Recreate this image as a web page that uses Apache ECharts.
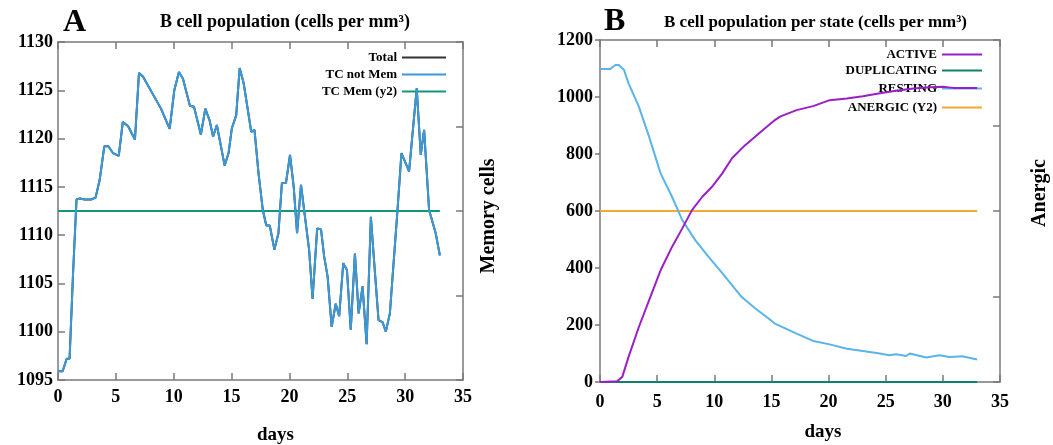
<!DOCTYPE html>
<html>
<head>
<meta charset="utf-8">
<script src="https://cdn.jsdelivr.net/npm/echarts/dist/echarts.min.js"></script>
<style>
  html, body { margin: 0; padding: 0; background: #fff; }
  #chart { width: 1053px; height: 445px; }
</style>
</head>
<body>
<div id="chart"></div>
<script>
// ---- Panel A: B cell population ----
const daysA = [0, 0.4, 0.75, 1.0, 1.3, 1.6, 1.9, 2.3, 2.9, 3.25, 3.6, 4.0, 4.35, 4.75, 5.25,
  5.6, 6.05, 6.65, 7.0, 7.35, 8.9, 9.65, 10.05, 10.45, 10.8, 11.4, 11.75, 12.35, 12.73, 13.1,
  13.4, 13.73, 14.4, 14.74, 15.03, 15.4, 15.7, 16.05, 16.7, 16.98, 17.33, 17.7, 18.0, 18.3, 18.7,
  19.05, 19.35, 19.7, 20.05, 20.37, 20.66, 21.0, 21.3, 21.7, 22.0, 22.4, 22.73, 23.0, 23.3, 23.65,
  24.0, 24.3, 24.65, 24.97, 25.3, 25.66, 25.98, 26.32, 26.67, 27.04, 27.33, 27.7, 28.05, 28.33, 28.68,
  29.34, 29.68, 30.34, 31.0, 31.35, 31.64, 32.07, 32.64, 33.0];
const tcNotMem = [1095.9, 1095.9, 1097.2, 1097.2, 1106.0, 1113.7, 1113.8, 1113.7, 1113.7, 1113.9,
  1115.7, 1119.2, 1119.2, 1118.5, 1118.2, 1121.7, 1121.3, 1119.9, 1126.8, 1126.4,
  1123.1, 1121.0, 1125.0, 1126.9, 1126.2, 1123.4, 1123.3, 1120.4, 1123.1, 1121.9,
  1120.2, 1121.4, 1117.2, 1118.5, 1121.1, 1122.4, 1127.3, 1125.7, 1120.7, 1120.9,
  1116.4, 1112.6, 1111.0, 1111.0, 1108.5, 1110.2, 1115.4, 1115.4, 1118.3, 1115.0,
  1110.2, 1115.2, 1112.3, 1108.5, 1103.4, 1110.7, 1110.6, 1107.8, 1105.7, 1100.5,
  1102.9, 1101.6, 1107.1, 1106.4, 1100.2, 1108.1, 1101.9, 1104.7, 1098.7, 1111.9,
  1107.1, 1101.2, 1101.0, 1100.0, 1101.9, 1112.6, 1118.5, 1116.6, 1125.2, 1118.3,
  1120.9, 1112.6, 1110.2, 1107.9];
// no memory cells: total equals the non-memory count
const tcTotal = tcNotMem;
const memDays = [0, 33];
const tcMem = [0, 0];

// ---- Panel B: B cell population per state ----
const activeDays = [0, 1.5, 1.95, 2.5, 3.4, 4.3, 5.3, 6.3, 7.2, 8.05, 8.95, 9.8, 10.7, 11.55, 12.7,
  13.9, 15.3, 15.75, 17.2, 18.65, 20.1, 21.6, 23.0, 24.5, 25.9, 27.4, 28.85, 30.0, 30.9, 33.0];
const active = [0, 3, 18, 88, 193, 287, 392, 474, 539, 603, 650, 685, 732, 785, 831,
  872, 919, 931, 954, 968, 989, 995, 1003, 1013, 1022, 1030, 1034, 1036, 1032, 1032];
const restingDays = [0, 0.9, 1.35, 1.65, 2.1, 2.5, 3.4, 4.3, 5.3, 6.3, 7.2, 8.35, 9.5, 10.5, 11.55,
  12.4, 13.6, 14.75, 15.3, 17.2, 18.65, 20.1, 21.6, 23.0, 24.5, 25.3, 25.9, 26.8, 27.1, 28.55,
  29.7, 30.6, 31.7, 33.0];
const resting = [1098, 1098, 1112, 1112, 1095, 1048, 966, 860, 732, 650, 568, 497, 439, 392, 340,
  298, 258, 223, 205, 170, 144, 132, 117, 109, 100, 94, 97, 91, 100, 86,
  94, 88, 90, 79];
const dupDays = [0, 33];
const duplicating = [0, 0];
const anergicDays = [0, 33];
const anergic = [0, 0];

const xTicks = { min: 0, max: 35, interval: 5 };
const yTicksA = { min: 1095, max: 1130, interval: 5 };
const yTicksB = { min: 0, max: 1200, interval: 200 };
const y2Ticks = { min: -1, max: 1, interval: 0.5 };

const FONT = '"Liberation Serif", "Times New Roman", serif';
const AXIS_COLOR = '#7a7a7a';

const pairs = (xs, ys) => xs.map((x, i) => [x, ys[i]]);

function frameAxis(extra) {
  return Object.assign({
    type: 'value',
    splitLine: { show: false },
    axisLine: { show: true, onZero: false, lineStyle: { color: AXIS_COLOR, width: 1.5 } },
    axisTick: { show: true, inside: true, length: 7, lineStyle: { color: AXIS_COLOR, width: 1.5 } },
    axisLabel: { show: false }
  }, extra);
}

const tickLabel = (margin) => ({
  show: true, margin: margin, color: '#000',
  fontFamily: FONT, fontWeight: 'bold', fontSize: 18,
  formatter: (v) => String(v)
});

const nameStyle = (extra) => Object.assign({
  color: '#000', fontFamily: FONT, fontWeight: 'bold', fontSize: 20
}, extra);

function lineSeries(name, xi, yi, data, color, z) {
  return {
    name: name, type: 'line', xAxisIndex: xi, yAxisIndex: yi,
    data: data, showSymbol: false, symbol: 'none', animation: false, z: z,
    lineStyle: { color: color, width: 2 }, itemStyle: { color: color }
  };
}

function legendItem(name, right, top, width) {
  return {
    data: [name], orient: 'vertical', align: 'right', right: right, top: top,
    icon: 'rect', itemWidth: width, itemHeight: 2, padding: 0, selectedMode: false,
    textStyle: { color: '#000', fontFamily: FONT, fontWeight: 'bold', fontSize: 13 }
  };
}

const titleStyle = (size) => ({ color: '#000', fontFamily: FONT, fontWeight: 'bold', fontSize: size });

const option = {
  backgroundColor: '#fff',
  animation: false,
  title: [
    { text: 'A', left: 58, top: 2, textStyle: titleStyle(32) },
    { text: 'B cell population (cells per mm³)', left: 155, top: 8, textStyle: titleStyle(18) },
    { text: 'B', left: 599, top: 1, textStyle: titleStyle(32) },
    { text: 'B cell population per state (cells per mm³)', left: 659, top: 9, textStyle: titleStyle(17) }
  ],
  grid: [
    { left: 58, top: 42, width: 405, height: 338, outerBoundsMode: 'none', containLabel: false },
    { left: 600, top: 40, width: 400, height: 342, outerBoundsMode: 'none', containLabel: false }
  ],
  xAxis: [
    frameAxis(Object.assign({ gridIndex: 0, position: 'bottom', axisLabel: tickLabel(8),
      name: 'days', nameLocation: 'middle', nameGap: 46,
      nameTextStyle: nameStyle({ fontSize: 19, padding: [0, 0, 0, 30] }) }, xTicks)),
    frameAxis(Object.assign({ gridIndex: 0, position: 'top' }, xTicks)),
    frameAxis(Object.assign({ gridIndex: 1, position: 'bottom', axisLabel: tickLabel(11),
      name: 'days', nameLocation: 'middle', nameGap: 41,
      nameTextStyle: nameStyle({ fontSize: 19, padding: [0, 0, 0, 46] }) }, xTicks)),
    frameAxis(Object.assign({ gridIndex: 1, position: 'top' }, xTicks))
  ],
  yAxis: [
    frameAxis(Object.assign({ gridIndex: 0, position: 'left', axisLabel: tickLabel(5) }, yTicksA)),
    frameAxis(Object.assign({ gridIndex: 0, position: 'right',
      name: 'Memory cells', nameLocation: 'middle', nameRotate: 90, nameGap: 16,
      nameTextStyle: nameStyle({ padding: [0, 10, 0, 0] }) }, y2Ticks)),
    frameAxis(Object.assign({ gridIndex: 1, position: 'left', axisLabel: tickLabel(7),
      axisTick: { show: true, inside: false, length: 5, lineStyle: { color: AXIS_COLOR, width: 1.5 } } }, yTicksB)),
    frameAxis(Object.assign({ gridIndex: 1, position: 'right',
      name: 'Anergic', nameLocation: 'middle', nameRotate: 90, nameGap: 30,
      nameTextStyle: nameStyle({ padding: [0, 0, 0, 36] }) }, y2Ticks))
  ],
  legend: [
    legendItem('Total', 607, 51, 44),
    legendItem('TC not Mem', 607, 68, 44),
    legendItem('TC Mem (y2)', 607, 85, 44),
    legendItem('ACTIVE', 71, 48, 40),
    legendItem('DUPLICATING', 71, 64, 40),
    legendItem('RESTING', 71, 82, 40),
    legendItem('ANERGIC (Y2)', 71, 101, 40)
  ],
  series: [
    lineSeries('Total', 0, 0, pairs(daysA, tcTotal), '#333333', 2),
    lineSeries('TC Mem (y2)', 0, 1, pairs(memDays, tcMem), '#12977a', 3),
    lineSeries('TC not Mem', 0, 0, pairs(daysA, tcNotMem), '#3a9ad9', 4),
    lineSeries('ANERGIC (Y2)', 2, 3, pairs(anergicDays, anergic), '#f4a833', 2),
    lineSeries('DUPLICATING', 2, 2, pairs(dupDays, duplicating), '#12806a', 3),
    lineSeries('RESTING', 2, 2, pairs(restingDays, resting), '#5ab4ea', 4),
    lineSeries('ACTIVE', 2, 2, pairs(activeDays, active), '#9b1fc6', 5)
  ]
};

const chart = echarts.init(document.getElementById('chart'), null, { renderer: 'canvas' });
chart.setOption(option);
</script>
</body>
</html>
